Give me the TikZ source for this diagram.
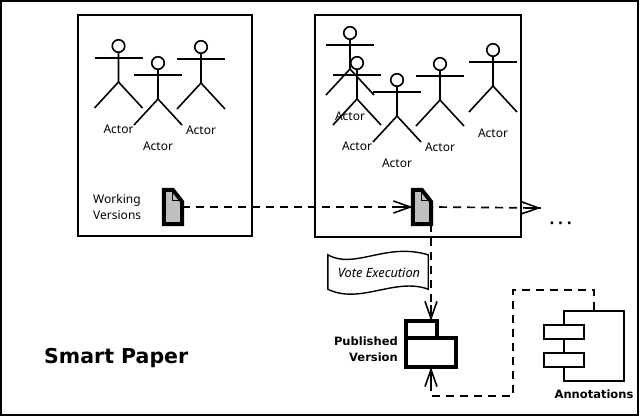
\documentclass[tikz,border=0pt]{standalone}
\usepackage{fontspec}
\setsansfont{Noto Sans}
\newfontfamily\heavyfont{DejaVu Sans Bold}
\usetikzlibrary{positioning}
\usetikzlibrary{arrows.meta}
\usetikzlibrary{calc}

\tikzset{
	boxframe/.style = {draw, line width = 2pt, inner sep = 0pt},
	link/.style = {line width = 1.7pt, dash pattern = on 8pt off 6pt},
	stub/.style = {line width = 1.7pt},
	opentip/.style = {-{Straight Barb[length = 17pt, width = 12pt, line width = 1.6pt]}},
	ghost/.style = {inner sep = 0pt},
	label/.style = {font = \sffamily\fontsize{12}{16}\selectfont, align = center},
	boldlabel/.style = {font = \heavyfont\fontsize{11.5}{16}\selectfont},
	actor/.pic = {
		\node (-head) [draw, line width = 1.6pt, circle, minimum size = 12.5pt, inner sep = 0pt] at (0, 0) {};
		\draw [line width = 1.6pt] (-head.south) -- (0, 36) -- (-24, 62);
		\draw [line width = 1.6pt] (0, 36) -- (24, 62);
		\draw [line width = 1.6pt] (-24, 12) -- (24, 12);
		\node (-label) [label] at (0, 83) {Actor};
	}
}

% page icon with a folded corner, drawn over a named node
\newcommand{\pageicon}[1]{
	\draw [line width = 4pt, fill = black!25!white, miter limit = 3] (#1.south west) -- (#1.north west) -- ++(9, 0) -- ($(#1.north east) + (0, 12)$) -- (#1.south east) -- cycle;
	\draw [line width = 1.2pt] ($(#1.north west) + (9, 2)$) |- ++(7, 9);
}

\begin{document}
\begin{tikzpicture}[x = 1pt, y = -1pt, font = \sffamily]
		\useasboundingbox (0, 0) rectangle (640, 417);
		\draw [line width = 2.4pt] (1, 1) rectangle (638, 415);

		\node (group1) [boxframe, minimum width = 174pt, minimum height = 221pt] at (165, 125.5) {};
		\node (group2) [boxframe, minimum width = 206pt, minimum height = 222pt] at (418, 126) {};

		\pic (a1) at (118.5, 46) {actor};
		\pic (a2) at (158, 63) {actor};
		\pic (a3) at (201, 47) {actor};

		\pic (b1) at (350, 33) {actor};
		\pic (b2) at (357, 63) {actor};
		\pic (b3) at (397, 80) {actor};
		\pic (b4) at (440, 64) {actor};
		\pic (b5) at (493, 50) {actor};

		\node (doc1) [ghost, minimum width = 18pt, minimum height = 34pt] at (173, 207) {};
		\node (doc2) [ghost, minimum width = 18pt, minimum height = 34pt] at (422, 207) {};
		\pageicon{doc1}
		\pageicon{doc2}
		\node (working) [label, align = left, anchor = west, inner sep = 0pt] at (93, 207) {Working\\Versions};

		\node (more) [anchor = base west, inner sep = 0pt, font = \sffamily\fontsize{22}{22}\selectfont\addfontfeature{LetterSpace = 12}] at (549, 224) {...};
		\coordinate (moretip) at (541, 208);

		\node (pkg) [ghost, minimum width = 50pt, minimum height = 46pt] at (431, 344) {};
		\draw [line width = 3.5pt] (pkg.north west) rectangle ($(pkg.north west) + (31, 17)$);
		\draw [line width = 3.5pt] ($(pkg.north west) + (0, 17)$) rectangle (pkg.south east);
		\node (published) [boldlabel, align = right, anchor = east, inner sep = 0pt] at (398, 349) {Published\\Version};

		\node (comp) [draw, line width = 2pt, minimum width = 60pt, minimum height = 70pt] at (594, 346) {};
		\node (port1) [draw, fill = white, line width = 2pt, minimum width = 40pt, minimum height = 14pt, inner sep = 0pt] at (564, 332) {};
		\node (port2) [draw, fill = white, line width = 2pt, minimum width = 40pt, minimum height = 14pt, inner sep = 0pt] at (564, 360) {};
		\node (annot) [boldlabel, below = 8pt of comp.south, inner sep = 0pt] {Annotations};

		\coordinate (turn1) at (513, 290);
		\coordinate (turn2) at (513, 396);

		\draw [link, opentip] (doc1.east) -- (doc2.west);
		\draw [link, opentip, dash phase = 6pt] (doc2.east) -- (moretip);
		\draw [link, opentip] (pkg.north |- doc2.south) -- (pkg.north);
		\draw [link, opentip] (comp.north) |- (turn1) |- (turn2) -| (pkg.south);

		% shafts run on into the open tips
		\draw [stub] (doc2.west) -- ++(-16, 0);
		\draw [stub] (moretip) -- ++(-16, 0);
		\draw [stub] (pkg.north) -- ++(0, -16);
		\draw [stub] (pkg.south) -- ++(0, 16);

		\node (vote) [ghost, minimum width = 100pt, minimum height = 34pt] at (378, 272) {};
		\draw [line width = 1.4pt, fill = white] (vote.north west) .. controls (355, 270) and (385, 242) .. (vote.north east) -- (vote.south east) .. controls (395, 277) and (360, 305) .. (vote.south west) -- cycle;
		\node (votetext) [font = \sffamily\itshape\fontsize{12.8}{14}\selectfont, inner sep = 0pt] at (379, 273) {Vote Execution};

		\node (title) [anchor = west, inner sep = 0pt, font = \heavyfont\fontsize{20.5}{24}\selectfont] at (44, 358) {Smart Paper};
	\end{tikzpicture}
\end{document}
